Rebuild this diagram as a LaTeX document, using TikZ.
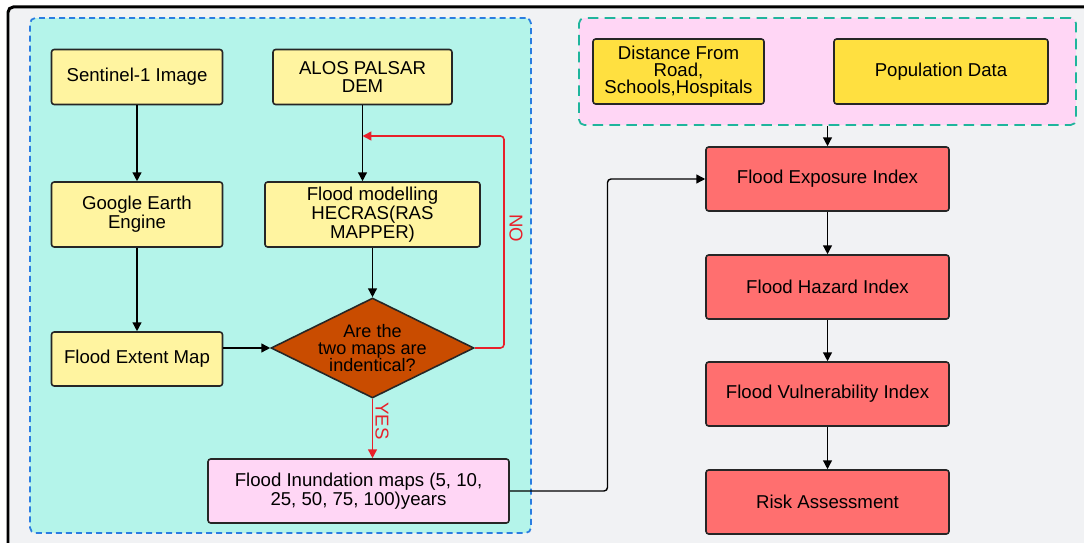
\documentclass[tikz,border=0pt]{standalone}
\usepackage{fontspec}
\setmainfont{Liberation Sans}
\usetikzlibrary{arrows.meta,shapes.geometric,positioning}
\definecolor{pagegray}{HTML}{F1F2F4}
\definecolor{aquabg}{HTML}{B4F4EA}
\definecolor{paleyellow}{HTML}{FFF4A0}
\definecolor{goldyellow}{HTML}{FFE040}
\definecolor{salmonred}{HTML}{FF6F6F}
\definecolor{palepink}{HTML}{FFD6F5}
\definecolor{rustorange}{HTML}{C94C00}
\definecolor{dashblue}{HTML}{2A7DE1}
\definecolor{dashteal}{HTML}{1FB59C}
\definecolor{loopred}{HTML}{E8202A}
\tikzset{
    box/.style={rectangle,draw=black!85,line width=0.9pt,rounded corners=1.5pt,align=center,
        font=\fontsize{10.6}{9.8}\selectfont,inner sep=2pt},
    inputbox/.style={box,fill=paleyellow,minimum width=3.42cm,minimum height=1.1cm},
    databox/.style={box,fill=goldyellow,minimum height=1.3cm},
    indexbox/.style={box,fill=salmonred,minimum width=4.86cm,minimum height=1.28cm},
    arr/.style={-{Triangle[width=5pt,length=5pt]},line width=0.8pt,black},
    noarr/.style={-{Triangle[width=5pt,length=5pt]},line width=0.9pt,loopred,rounded corners=2pt},
    flag/.style={text=loopred,font=\fontsize{10.6}{10}\selectfont,rotate=-90}
}

\begin{document}
\begin{tikzpicture}[x=0.02cm,y=-0.02cm]
    \useasboundingbox[fill=white] (0,0) rectangle (1084,543);
    % frame
    \fill[pagegray] (8,7) rectangle (1084,543);
    \draw[line width=1.7pt,rounded corners=3pt] (8,543) -- (8,7) -- (1084,7);
    % groups
    \node[draw=dashblue,fill=aquabg,line width=1pt,dash pattern=on 3.4pt off 2.3pt,rounded corners=3pt,
        minimum width=10.02cm,minimum height=10.3cm] (hazgrp) at (280.5,275.5) {};
    \node[draw=dashteal,fill=palepink,line width=1pt,dash pattern=on 6pt off 3.6pt,rounded corners=3pt,
        minimum width=9.94cm,minimum height=2.14cm] (expgrp) at (827.5,71.5) {};
    % left column
    \node[inputbox] (sent) at (137,77) {Sentinel-1 Image};
    \node[inputbox,minimum width=3.58cm] (alos) at (362.5,77) {ALOS PALSAR\\DEM};
    \node[inputbox,minimum height=1.3cm] (gee) at (137,214.5) {Google Earth\\Engine};
    \node[inputbox,minimum width=4.3cm,minimum height=1.3cm] (hec) at (372.5,214.5) {Flood modelling\\HECRAS(RAS\\MAPPER)};
    \node[inputbox,minimum height=1.08cm] (fem) at (137,359) {Flood Extent Map};
    \node[diamond,draw=black!85,line width=0.9pt,fill=rustorange,aspect=2.03,inner sep=-4pt,
        minimum width=4.06cm,minimum height=2cm,align=center,font=\fontsize{10.3}{9.8}\selectfont] (dia) at (372.5,348) {Are the\\two maps are\\indentical?};
    \node[box,fill=palepink,minimum width=6.02cm,minimum height=1.28cm] (inund) at (358.5,491) {Flood Inundation maps (5, 10,\\25, 50, 75, 100)years};
    % right column
    \node[databox,minimum width=3.42cm] (dist) at (678.5,71.5) {Distance From\\Road,\\Schools,Hospitals};
    \node[databox,minimum width=4.28cm] (popu) at (941,71.5) {Population Data};
    \node[indexbox] (expo) at (827.5,179) {Flood Exposure Index};
    \node[indexbox] (haz) at (827.5,287) {Flood Hazard Index};
    \node[indexbox] (vul) at (827.5,394) {Flood Vulnerability Index};
    \node[indexbox] (risk) at (827.5,502) {Risk Assessment};
    \coordinate (noturn) at (504,136);
    \coordinate (merge) at (362.5,136);
    \coordinate (jog) at (607.5,300);
    % connectors
    \draw[arr] (sent) -- (gee);
    \draw[arr] (gee) -- (fem);
    \draw[arr] (alos.south) -- (alos.south |- hec.north);
    \draw[arr] (hec) -- (dia);
    \draw[arr] (fem.east |- dia.west) -- (dia.west);
    \draw[noarr] (dia.east) -| (noturn) -- (merge);
    \draw[noarr] (dia.south) -- (dia.south |- inund.north);
    \node[flag] at (516,228) {NO};
    \node[flag] at (382,421) {YES};
    \draw[arr,rounded corners=2pt] (inund.east) -| (jog) |- (expo.west);
    \draw[arr] (expgrp.south -| expo.north) -- (expo.north);
    \draw[arr] (expo) -- (haz);
    \draw[arr] (haz) -- (vul);
    \draw[arr] (vul) -- (risk);
\end{tikzpicture}
\end{document}
